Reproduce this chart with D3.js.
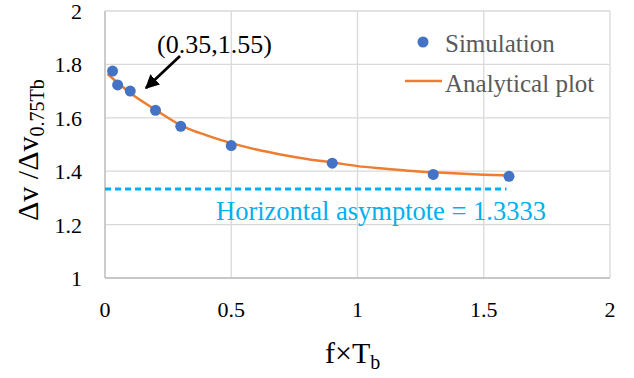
<!DOCTYPE html>
<html>
<head>
<meta charset="utf-8">
<script src="https://cdn.jsdelivr.net/npm/d3@7"></script>
</head>
<body style="margin:0; background:#fff">
<svg id="chart" width="634" height="378"></svg>
<script>
// simulation points
const simX = [0.03, 0.05, 0.1, 0.2, 0.3, 0.5, 0.9, 1.3, 1.6];
const simY = [1.775, 1.723, 1.70, 1.628, 1.568, 1.496, 1.43, 1.388, 1.381];

// analytical curve
const anaX = [0.01, 0.1, 0.2, 0.3, 0.4, 0.5, 0.6, 0.7, 0.8, 0.9, 1.0, 1.1, 1.2, 1.3, 1.4, 1.5, 1.6];
const anaY = [1.764, 1.693, 1.630, 1.572, 1.535, 1.505, 1.481, 1.462, 1.446, 1.433, 1.419, 1.410, 1.402, 1.396, 1.391, 1.387, 1.384];

const asymptote = 1.3333;
const asymX = [0, 1.59];

const xTicks = [0, 0.5, 1, 1.5, 2];
const yTicks = [1, 1.2, 1.4, 1.6, 1.8, 2];

const serif = '"Liberation Serif"';

const svg = d3.select("#chart");

const x = d3.scaleLinear().domain([0, 2]).range([105, 610]);
const y = d3.scaleLinear().domain([1, 2]).range([278, 11]);

// grid
svg.append("g")
  .selectAll("line")
  .data(xTicks)
  .join("line")
  .attr("x1", d => x(d)).attr("x2", d => x(d))
  .attr("y1", y(1)).attr("y2", y(2))
  .attr("stroke", "#d9d9d9").attr("stroke-width", 1.3);

svg.append("g")
  .selectAll("line")
  .data(yTicks)
  .join("line")
  .attr("x1", x(0)).attr("x2", x(2))
  .attr("y1", d => y(d)).attr("y2", d => y(d))
  .attr("stroke", "#d9d9d9").attr("stroke-width", 1.3);

// axis lines a bit darker
svg.append("line")
  .attr("x1", x(0)).attr("x2", x(0)).attr("y1", y(1)).attr("y2", y(2))
  .attr("stroke", "#bfbfbf").attr("stroke-width", 1.3);
svg.append("line")
  .attr("x1", x(0)).attr("x2", x(2)).attr("y1", y(1)).attr("y2", y(1))
  .attr("stroke", "#bfbfbf").attr("stroke-width", 1.3);

// tick labels
svg.append("g")
  .selectAll("text")
  .data(xTicks)
  .join("text")
  .attr("x", d => x(d))
  .attr("y", 317)
  .attr("text-anchor", "middle")
  .style("font-family", serif)
  .style("font-size", "22px")
  .text(d => d);

svg.append("g")
  .selectAll("text")
  .data(yTicks)
  .join("text")
  .attr("x", 82)
  .attr("y", d => y(d) + 8)
  .attr("text-anchor", "end")
  .style("font-family", serif)
  .style("font-size", "22px")
  .text(d => d);

// asymptote
svg.append("line")
  .attr("x1", x(asymX[0])).attr("x2", x(asymX[1]))
  .attr("y1", y(asymptote)).attr("y2", y(asymptote))
  .attr("stroke", "#00b0f0").attr("stroke-width", 3)
  .attr("stroke-dasharray", "6 4");

svg.append("text")
  .attr("x", 216).attr("y", 220)
  .style("font-family", serif)
  .style("font-size", "26.5px")
  .attr("fill", "#00b0f0")
  .text("Horizontal asymptote = " + asymptote.toFixed(4));

// analytical curve
const line = d3.line()
  .x(d => x(d[0]))
  .y(d => y(d[1]))
  .curve(d3.curveMonotoneX);

svg.append("path")
  .datum(d3.zip(anaX, anaY))
  .attr("d", line)
  .attr("fill", "none")
  .attr("stroke", "#ed7d31")
  .attr("stroke-width", 2.5);

// simulation dots
svg.append("g")
  .selectAll("circle")
  .data(d3.zip(simX, simY))
  .join("circle")
  .attr("cx", d => x(d[0]))
  .attr("cy", d => y(d[1]))
  .attr("r", 5.5)
  .attr("fill", "#4472c4");

// annotation with arrow
svg.append("defs").append("marker")
  .attr("id", "head")
  .attr("viewBox", "0 0 10 10")
  .attr("refX", 9).attr("refY", 5)
  .attr("markerWidth", 5).attr("markerHeight", 5)
  .attr("markerUnits", "strokeWidth")
  .attr("orient", "auto")
  .append("path")
  .attr("d", "M0,0 L10,5 L0,10 z")
  .attr("fill", "#000");

svg.append("line")
  .attr("x1", 180).attr("y1", 56)
  .attr("x2", 146).attr("y2", 88)
  .attr("stroke", "#000").attr("stroke-width", 2.8)
  .attr("marker-end", "url(#head)");

svg.append("text")
  .attr("x", 157).attr("y", 53)
  .style("font-family", serif)
  .style("font-size", "26px")
  .text("(0.35,1.55)");

// legend
svg.append("circle")
  .attr("cx", 423).attr("cy", 42).attr("r", 5.5)
  .attr("fill", "#4472c4");
svg.append("text")
  .attr("x", 445).attr("y", 52)
  .style("font-family", serif)
  .style("font-size", "25px").attr("fill", "#595959")
  .text("Simulation");
svg.append("line")
  .attr("x1", 405).attr("x2", 442).attr("y1", 81).attr("y2", 81)
  .attr("stroke", "#ed7d31").attr("stroke-width", 2.5);
svg.append("text")
  .attr("x", 445).attr("y", 92)
  .style("font-family", serif)
  .style("font-size", "25px").attr("fill", "#595959")
  .text("Analytical plot");

// axis titles
const xt = svg.append("text")
  .attr("x", 325).attr("y", 363)
  .style("font-family", serif)
  .style("font-size", "30px");
xt.append("tspan").text("f×T");
xt.append("tspan").style("font-size", "20px").attr("dy", 6).text("b");

const yt = svg.append("text")
  .attr("transform", "translate(38,221) rotate(-90)")
  .style("font-family", serif)
  .style("font-size", "30px");
yt.append("tspan").text("Δv /Δv");
yt.append("tspan").style("font-size", "20px").attr("dy", 6).text("0.75Tb");
</script>
</body>
</html>
